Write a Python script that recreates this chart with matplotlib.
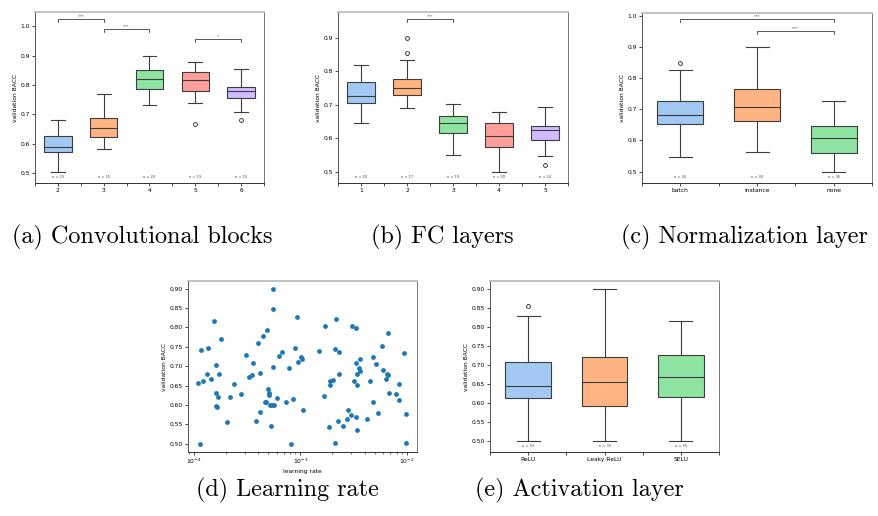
import matplotlib
matplotlib.use('Agg')
import matplotlib.pyplot as plt
from matplotlib import transforms

pastel = ['#a1c9f4', '#ffb482', '#8de5a1', '#ff9f9b', '#d0bbff']
edge = '#3d3d3d'

# (a) convolutional blocks
conv_labels = ['2', '3', '4', '5', '6']
conv_n = [23, 15, 20, 19, 23]
conv_lo = [0.505, 0.582, 0.732, 0.740, 0.707]
conv_q1 = [0.573, 0.625, 0.785, 0.780, 0.755]
conv_med = [0.590, 0.653, 0.819, 0.816, 0.780]
conv_q3 = [0.626, 0.688, 0.851, 0.843, 0.794]
conv_hi = [0.680, 0.770, 0.899, 0.877, 0.853]
conv_fliers = [[], [], [], [0.669], [0.681]]
conv_sig = [(0, 1, 1.024, '***'), (1, 2, 0.989, '***'), (3, 4, 0.955, '*')]

# (b) FC layers
fc_labels = ['1', '2', '3', '4', '5']
fc_n = [20, 17, 19, 20, 24]
fc_lo = [0.645, 0.690, 0.552, 0.501, 0.547]
fc_q1 = [0.707, 0.730, 0.616, 0.575, 0.596]
fc_med = [0.728, 0.749, 0.645, 0.608, 0.624]
fc_q3 = [0.767, 0.778, 0.666, 0.647, 0.638]
fc_hi = [0.818, 0.834, 0.702, 0.678, 0.695]
fc_fliers = [[], [0.900, 0.854], [], [], [0.521]]
fc_sig = [(1, 2, 0.957, '***')]

# (c) normalization layer
norm_labels = ['batch', 'instance', 'none']
norm_n = [34, 30, 36]
norm_lo = [0.546, 0.562, 0.500]
norm_q1 = [0.652, 0.662, 0.559]
norm_med = [0.680, 0.706, 0.607]
norm_q3 = [0.728, 0.764, 0.645]
norm_hi = [0.825, 0.899, 0.725]
norm_fliers = [[0.848], [], []]
norm_sig = [(0, 2, 0.989, '***'), (1, 2, 0.952, '***')]

# (e) activation layer
act_labels = ['ReLU', 'Leaky ReLU', 'SELU']
act_n = [33, 32, 35]
act_lo = [0.500, 0.500, 0.500]
act_q1 = [0.611, 0.590, 0.614]
act_med = [0.645, 0.655, 0.668]
act_q3 = [0.706, 0.721, 0.725]
act_hi = [0.829, 0.900, 0.816]
act_fliers = [[0.855], [], []]
act_sig = []

# (d) learning rate
lr = [1.099e-4, 1.155e-4, 1.172e-4, 1.213e-4, 1.334e-4, 1.372e-4, 1.454e-4, 1.552e-4,
      1.618e-4, 1.620e-4, 1.690e-4, 1.631e-4, 1.644e-4, 1.728e-4, 1.791e-4, 2.054e-4,
      2.176e-4, 2.371e-4, 2.799e-4, 3.073e-4, 3.304e-4, 3.548e-4, 3.597e-4, 3.837e-4,
      4.009e-4, 4.217e-4, 4.220e-4, 4.498e-4, 4.634e-4, 4.797e-4, 4.831e-4, 4.943e-4,
      5.047e-4, 5.117e-4, 5.236e-4, 5.309e-4, 5.464e-4, 5.508e-4, 5.546e-4, 5.550e-4,
      5.623e-4, 6.081e-4, 6.266e-4, 6.683e-4, 7.396e-4, 7.834e-4, 8.110e-4, 8.590e-4,
      8.851e-4, 9.247e-4, 9.572e-4, 1.014e-3, 1.038e-3, 1.067e-3, 1.486e-3, 1.656e-3,
      1.702e-3, 1.871e-3, 1.884e-3, 1.910e-3, 2.023e-3, 2.099e-3, 2.128e-3, 2.158e-3,
      2.254e-3, 2.304e-3, 2.286e-3, 2.512e-3, 2.716e-3, 2.818e-3, 2.965e-3, 3.073e-3,
      3.162e-3, 3.304e-3, 3.327e-3, 3.310e-3, 3.373e-3, 3.396e-3, 3.400e-3, 3.548e-3,
      3.597e-3, 3.652e-3, 4.246e-3, 4.529e-3, 4.764e-3, 4.797e-3, 5.158e-3, 5.346e-3,
      5.788e-3, 5.998e-3, 6.310e-3, 6.546e-3, 6.592e-3, 6.637e-3, 6.823e-3, 7.943e-3,
      8.414e-3, 8.356e-3, 9.311e-3, 9.795e-3, 9.716e-3]
lr_bacc = [0.656, 0.500, 0.743, 0.661, 0.681, 0.746, 0.666, 0.817,
           0.704, 0.631, 0.620, 0.597, 0.594, 0.680, 0.770, 0.557,
           0.621, 0.653, 0.629, 0.730, 0.673, 0.677, 0.709, 0.558,
           0.761, 0.682, 0.582, 0.779, 0.608, 0.607, 0.794, 0.641,
           0.630, 0.627, 0.601, 0.547, 0.600, 0.698, 0.900, 0.848,
           0.600, 0.618, 0.726, 0.736, 0.607, 0.695, 0.500, 0.616,
           0.746, 0.826, 0.710, 0.724, 0.720, 0.586, 0.739, 0.624,
           0.804, 0.543, 0.652, 0.662, 0.665, 0.745, 0.503, 0.822,
           0.560, 0.736, 0.681, 0.546, 0.563, 0.588, 0.575, 0.803,
           0.662, 0.709, 0.799, 0.568, 0.681, 0.652, 0.535, 0.696,
           0.718, 0.689, 0.564, 0.662, 0.723, 0.607, 0.705, 0.579,
           0.752, 0.690, 0.666, 0.681, 0.678, 0.786, 0.630, 0.628,
           0.655, 0.613, 0.733, 0.576, 0.501]

FS = 4.3


def style_axes(ax):
    ax.spines['top'].set_color('#b8b8b8')
    ax.spines['top'].set_linewidth(1.2)
    ax.spines['right'].set_color('#777777')
    ax.spines['left'].set_color('#555555')
    ax.spines['bottom'].set_color('#333333')
    for s in ['right', 'left', 'bottom']:
        ax.spines[s].set_linewidth(0.7)
    ax.tick_params(labelsize=FS, length=2, width=0.5, pad=1.5)
    ax.set_ylabel('validation BACC', fontsize=FS, labelpad=2)


def box_panel(ax, labels, n, lo, q1, med, q3, hi, fliers, sig, ylim, yticks):
    stats = []
    for i in range(len(labels)):
        stats.append(dict(label=labels[i], whislo=lo[i], q1=q1[i], med=med[i],
                          q3=q3[i], whishi=hi[i], fliers=fliers[i]))
    pos = list(range(len(labels)))
    bp = ax.bxp(stats, positions=pos, widths=0.6, patch_artist=True,
                boxprops=dict(edgecolor=edge, linewidth=0.8),
                medianprops=dict(color=edge, linewidth=0.8),
                whiskerprops=dict(color=edge, linewidth=0.8),
                capprops=dict(color=edge, linewidth=0.8),
                flierprops=dict(marker='o', markerfacecolor='none', markeredgecolor=edge,
                                markersize=2.8, markeredgewidth=0.7))
    for patch, c in zip(bp['boxes'], pastel):
        patch.set_facecolor(c)
    ax.set_xlim(-0.5, len(labels) - 0.5)
    ax.set_ylim(*ylim)
    ax.set_yticks(yticks)
    ax.set_xticks(pos)
    ax.set_xticklabels(labels)
    ax.set_xticks([p - 0.5 for p in pos] + [len(labels) - 0.5], minor=True)
    ax.tick_params(axis='x', which='major', length=0, pad=2.5)
    ax.tick_params(axis='x', which='minor', length=2, width=0.5)
    style_axes(ax)
    trans = transforms.blended_transform_factory(ax.transData, ax.transAxes)
    for p, k in zip(pos, n):
        ax.text(p, 0.035, 'n = %d' % k, transform=trans, ha='center', va='center',
                fontsize=2.6, color='#444444')
    span = ylim[1] - ylim[0]
    for i, j, y, s in sig:
        leg = 0.018 * span
        ax.plot([i, i, j, j], [y - leg, y, y, y - leg], color=edge, lw=0.6)
        ax.text((i + j) / 2, y + 0.004 * span, s, ha='center', va='bottom',
                fontsize=3.2, color=edge)


fig = plt.figure(figsize=(8.79, 5.16), dpi=100)

ax_a = fig.add_axes([0.0398, 0.6453, 0.2605, 0.3314])
box_panel(ax_a, conv_labels, conv_n, conv_lo, conv_q1, conv_med, conv_q3, conv_hi,
          conv_fliers, conv_sig, (0.467, 1.048), [0.5, 0.6, 0.7, 0.8, 0.9, 1.0])

ax_b = fig.add_axes([0.3845, 0.6453, 0.2617, 0.3314])
box_panel(ax_b, fc_labels, fc_n, fc_lo, fc_q1, fc_med, fc_q3, fc_hi,
          fc_fliers, fc_sig, (0.467, 0.977), [0.5, 0.6, 0.7, 0.8, 0.9])

ax_c = fig.add_axes([0.7304, 0.6453, 0.2617, 0.3295])
box_panel(ax_c, norm_labels, norm_n, norm_lo, norm_q1, norm_med, norm_q3, norm_hi,
          norm_fliers, norm_sig, (0.4635, 1.0086), [0.5, 0.6, 0.7, 0.8, 0.9, 1.0])

ax_d = fig.add_axes([0.2139, 0.124, 0.2605, 0.3314])
ax_d.scatter(lr, lr_bacc, s=12, color='#1f77b4', linewidths=0)
ax_d.set_xscale('log')
ax_d.set_xlim(8.85e-5, 1.241e-2)
ax_d.set_ylim(0.479, 0.9197)
ax_d.set_yticks([0.50, 0.55, 0.60, 0.65, 0.70, 0.75, 0.80, 0.85, 0.90])
style_axes(ax_d)
ax_d.tick_params(axis='x', which='minor', length=1.2, width=0.4)
ax_d.set_xlabel('learning rate', fontsize=FS, labelpad=2)

ax_e = fig.add_axes([0.5575, 0.124, 0.2605, 0.3314])
box_panel(ax_e, act_labels, act_n, act_lo, act_q1, act_med, act_q3, act_hi,
          act_fliers, act_sig, (0.4702, 0.920),
          [0.50, 0.55, 0.60, 0.65, 0.70, 0.75, 0.80, 0.85, 0.90])

captions = [('(a) Convolutional blocks', 142, 237), ('(b) FC layers', 442, 237),
            ('(c) Normalization layer', 744, 237), ('(d) Learning rate', 287, 490),
            ('(e) Activation layer', 579, 490)]
for txt, x, y in captions:
    fig.text(x / 879, 1 - y / 516, txt, ha='center', va='center', fontsize=17.4,
             family='cmr10')

fig.savefig('out.png', dpi=100)
